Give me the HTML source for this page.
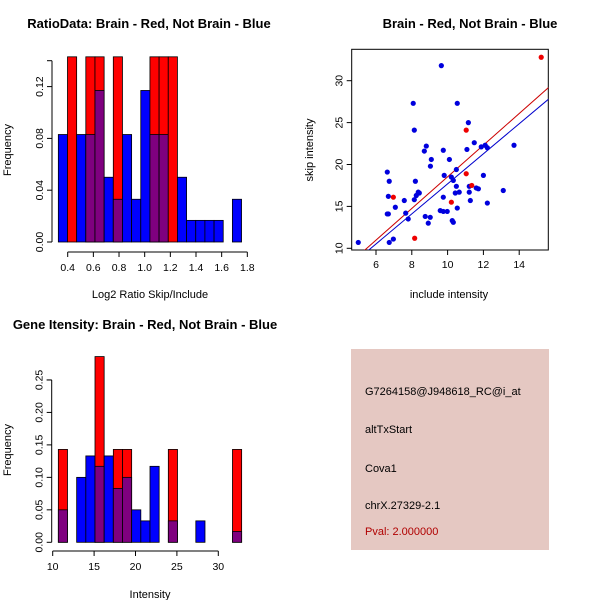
<!DOCTYPE html>
<html><head><meta charset="utf-8"><style>
html,body{margin:0;padding:0;background:#fff;}
svg{display:block;font-family:"Liberation Sans",Arial,sans-serif;}
</style></head><body>
<svg id="c" width="600" height="600" viewBox="0 0 600 600" xmlns="http://www.w3.org/2000/svg">
<rect x="0" y="0" width="600" height="600" fill="#fff"/>
<text x="149" y="28" font-size="13" font-weight="bold" text-anchor="middle">RatioData: Brain - Red, Not Brain - Blue</text>
<text x="470" y="28" font-size="13" font-weight="bold" text-anchor="middle">Brain - Red, Not Brain - Blue</text>
<text x="145" y="329" font-size="13" font-weight="bold" text-anchor="middle">Gene Itensity: Brain - Red, Not Brain - Blue</text>
<text x="150" y="298" font-size="11" text-anchor="middle">Log2 Ratio Skip/Include</text>
<text x="150" y="598" font-size="11" text-anchor="middle">Intensity</text>
<text x="449" y="298" font-size="11" text-anchor="middle">include intensity</text>
<text transform="translate(11,150) rotate(-90)" font-size="11" text-anchor="middle">Frequency</text>
<text transform="translate(11,450) rotate(-90)" font-size="11" text-anchor="middle">Frequency</text>
<text transform="translate(313,150) rotate(-90)" font-size="11" text-anchor="middle">skip intensity</text>
<g id="h1"></g>
<g id="h2"></g>
<g id="sc"></g>
<g>
<rect x="351" y="349" width="198" height="201" fill="#e5c8c2"/>
<text x="365" y="395" font-size="11">G7264158@J948618_RC@i_at</text>
<text x="365" y="433" font-size="11">altTxStart</text>
<text x="365" y="472" font-size="11">Cova1</text>
<text x="365" y="509" font-size="11">chrX.27329-2.1</text>
<text x="365" y="535" font-size="11" fill="#b00000">Pval: 2.000000</text>
</g>
</svg>
<script>
// ---- Ratio histogram data ----
const ratioBinStart = 0.327;
const ratioBinWidth = 0.0714;
const ratioBlue = [0.083,0,0.083,0.083,0.117,0.05,0.033,0.083,0.033,0.117,0.083,0.083,0,0.05,0.0167,0.0167,0.0167,0.0167,0,0.033];
const ratioRed  = [0,0.143,0,0.143,0.143,0,0.143,0,0,0,0.143,0.143,0.143,0,0,0,0,0,0,0];
const ratioXTicks = [0.4,0.6,0.8,1.0,1.2,1.4,1.6,1.8];
const ratioXLabels = ["0.4","0.6","0.8","1.0","1.2","1.4","1.6","1.8"];
const ratioYTicks = [0,0.04,0.08,0.12];
const ratioYLabels = ["0.00","0.04","0.08","0.12"];
// ---- Intensity histogram data ----
const intBinStart = 10.68;
const intBinWidth = 1.107;
const intBlue = [0.05,0,0.1,0.133,0.117,0.133,0.083,0.1,0.05,0.033,0.117,0,0.033,0,0,0.033,0,0,0,0.0167];
const intRed  = [0.143,0,0,0,0.286,0,0.143,0.143,0,0,0,0,0.143,0,0,0,0,0,0,0.143];
const intXTicks = [10,15,20,25,30];
const intXLabels = ["10","15","20","25","30"];
const intYTicks = [0,0.05,0.1,0.15,0.2,0.25];
const intYLabels = ["0.00","0.05","0.10","0.15","0.20","0.25"];
// ---- Scatter data ----
const blueX = [5.01,9.65,8.08,10.54,11.16,8.14,13.71,8.81,8.70,9.76,11.08,11.49,11.88,12.10,12.22,9.09,10.10,9.04,6.63,10.49,6.74,9.81,10.21,10.32,12.0,8.20,10.49,11.21,11.60,11.72,13.11,8.36,8.42,8.25,8.14,10.43,10.65,11.21,6.69,9.76,7.58,11.27,7.08,12.22,10.54,9.59,9.76,9.98,6.63,6.69,7.66,8.75,9.03,7.80,10.26,10.32,8.92,6.97,6.74];
const blueY = [10.7,31.8,27.3,27.3,25.0,24.1,22.3,22.2,21.6,21.7,21.8,22.6,22.1,22.3,22.0,20.6,20.6,19.8,19.1,19.4,18.0,18.7,18.5,18.1,18.7,18.0,17.4,17.4,17.2,17.1,16.9,16.7,16.6,16.3,15.8,16.6,16.7,16.7,16.2,16.1,15.7,15.7,14.9,15.4,14.8,14.5,14.4,14.4,14.1,14.1,14.2,13.8,13.7,13.5,13.3,13.1,13.0,11.1,10.7];
const redX = [15.23,11.04,11.04,6.97,10.21,11.35,8.16];
const redY = [32.8,24.1,18.9,16.1,15.5,17.5,11.2];
const redFit = [-0.36,1.889];   // intercept, slope
const blueFit = [-0.24,1.793];
const scXTicks = [6,8,10,12,14];
const scXLabels = ["6","8","10","12","14"];
const scYTicks = [10,15,20,25,30];
const scYLabels = ["10","15","20","25","30"];

const NS="http://www.w3.org/2000/svg";
function mk(parent,tag,attrs){const e=document.createElementNS(NS,tag);for(const k in attrs)e.setAttribute(k,attrs[k]);parent.appendChild(e);return e;}

function hist(gid,binStart,binW,blue,red,xs,xl,ys,yl,sx,sy,axisX,axisY,yTickTop){
  const g=document.getElementById(gid);
  for(let i=0;i<blue.length;i++){
    const x0=sx(binStart+i*binW), x1=sx(binStart+(i+1)*binW);
    const b=blue[i], r=red[i];
    const lo=Math.min(b,r), hi=Math.max(b,r);
    if(hi>0){
      const r1=mk(g,'rect',{x:x0,y:sy(hi),width:x1-x0,height:sy(0)-sy(hi),fill:(r>=b?'#ff0000':'#0000ff'),stroke:'#000','stroke-width':0.8});
      
      
    }
    if(lo>0){
      const r2=mk(g,'rect',{x:x0,y:sy(lo),width:x1-x0,height:sy(0)-sy(lo),fill:'#7f007f',stroke:'#000','stroke-width':0.8});
      
      
    }
  }
  const xa=mk(g,'g',{});
  
  
  mk(xa,'line',{x1:sx(xs[0]),x2:sx(xs[xs.length-1]),y1:axisY,y2:axisY,stroke:'#000'});
  xs.forEach((v,i)=>{mk(xa,'line',{x1:sx(v),x2:sx(v),y1:axisY,y2:axisY+5,stroke:'#000'});
    const t=mk(xa,'text',{x:sx(v),y:axisY+19,'font-size':10.5,'text-anchor':'middle'});t.textContent=xl[i];
    
    });
  const ya=mk(g,'g',{});
  
  
  mk(ya,'line',{x1:axisX,x2:axisX,y1:sy(0),y2:sy(yTickTop),stroke:'#000'});
  ys.concat([yTickTop]).forEach(v=>mk(ya,'line',{x1:axisX-5,x2:axisX,y1:sy(v),y2:sy(v),stroke:'#000'}));
  ys.forEach((v,i)=>{const t=mk(ya,'text',{transform:'translate('+(axisX-9)+','+sy(v)+') rotate(-90)','font-size':10.5,'text-anchor':'middle'});t.textContent=yl[i];
    
    });
}
const r_sx=v=>67.7+(v-0.4)*128.3;
const r_sy=v=>242-v*1295;
hist('h1',ratioBinStart,ratioBinWidth,ratioBlue,ratioRed,ratioXTicks,ratioXLabels,ratioYTicks,ratioYLabels,r_sx,r_sy,52,252,0.14);
const i_sx=v=>52.7+(v-10)*8.28;
const i_sy=v=>542.3-v*649.4;
hist('h2',intBinStart,intBinWidth,intBlue,intRed,intXTicks,intXLabels,intYTicks,intYLabels,i_sx,i_sy,51.7,551,0.25);

(function(){
  const g=document.getElementById('sc');
  const sx=v=>376+(v-6)*17.9;
  const sy=v=>248.3-(v-10)*8.38;
  const L=351.7,R=548.3,T=49.3,B=250;
  mk(g,'defs',{}).innerHTML='<clipPath id="scclip"><rect x="'+L+'" y="'+T+'" width="'+(R-L)+'" height="'+(B-T)+'"/></clipPath>';
  const box=mk(g,'rect',{x:L,y:T,width:R-L,height:B-T,fill:'none',stroke:'#000'});
  
  
  scXTicks.forEach((v,i)=>{mk(g,'line',{x1:sx(v),x2:sx(v),y1:B,y2:B+5,stroke:'#000'});
    const t=mk(g,'text',{x:sx(v),y:B+18,'font-size':10.5,'text-anchor':'middle'});t.textContent=scXLabels[i];
    
    });
  scYTicks.forEach((v,i)=>{mk(g,'line',{x1:L-5,x2:L,y1:sy(v),y2:sy(v),stroke:'#000'});
    const t=mk(g,'text',{transform:'translate('+(L-9)+','+sy(v)+') rotate(-90)','font-size':10.5,'text-anchor':'middle'});t.textContent=scYLabels[i];
    
    });
  const cg=mk(g,'g',{'clip-path':'url(#scclip)'});
  [[redFit,'#cc0000','red-fit-line'],[blueFit,'#0000cc','blue-fit-line']].forEach(([f,c,n])=>{
    const x0=4,x1=16;
    const l=mk(cg,'line',{x1:sx(x0),y1:sy(f[0]+f[1]*x0),x2:sx(x1),y2:sy(f[0]+f[1]*x1),stroke:c,'stroke-width':1});
    
    
  });
  blueX.forEach((v,i)=>{const c=mk(g,'circle',{cx:sx(v),cy:sy(blueY[i]),r:2.6,fill:'#0000dd'});
    
    });
  redX.forEach((v,i)=>{const c=mk(g,'circle',{cx:sx(v),cy:sy(redY[i]),r:2.6,fill:'#ee0000'});
    
    });
})();
</script>
</body></html>
